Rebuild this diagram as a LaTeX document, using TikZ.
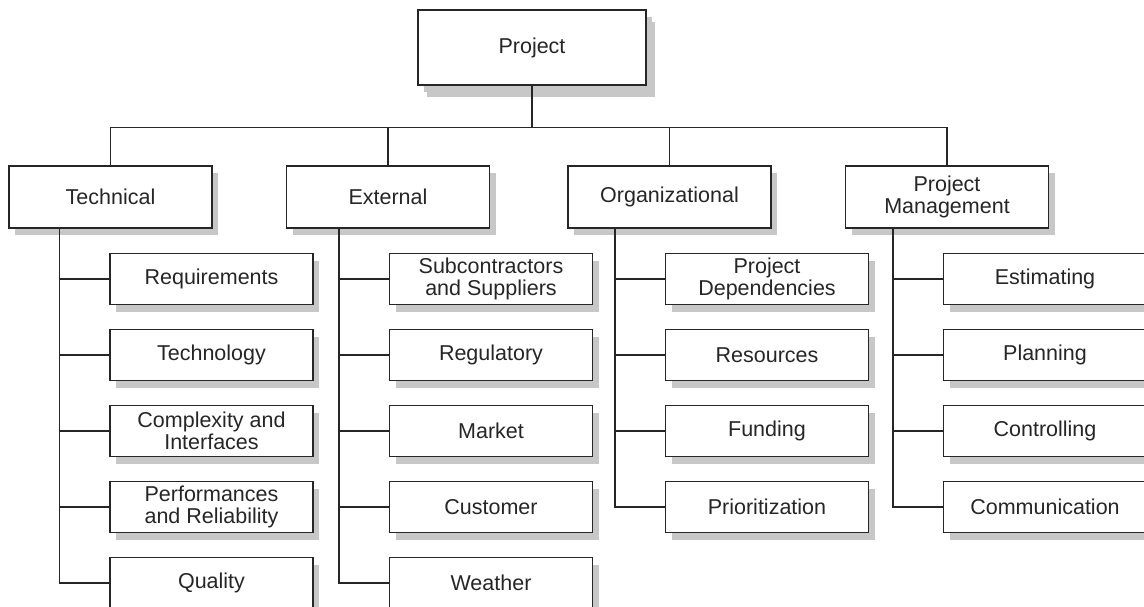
\documentclass[tikz,border=0pt]{standalone}
\usepackage{fontspec}
\setmainfont{Liberation Sans}
\usetikzlibrary{shadows}

\begin{document}
\begin{tikzpicture}[x=1pt, y=-1pt, line width=1.3pt, draw=black!85,
  every node/.style={draw=black!85, fill=white, align=center, inner sep=2pt,
    font=\fontsize{21.5}{22}\selectfont, text=black!85,
    drop shadow={shadow xshift=6pt, shadow yshift=-7pt, fill=black!22, opacity=1}},
  top/.style={minimum width=228, minimum height=75,
    drop shadow={shadow xshift=9pt, shadow yshift=-12pt, fill=black!22, opacity=1}},
  area/.style={minimum width=203, minimum height=62},
  item/.style={minimum width=203, minimum height=51}]
  \useasboundingbox (0,0) rectangle (1144,607);

  \node[top] (proj) at (532, 47.5) {Project};

  \node[area] (tech) at (110.5, 197) {Technical};
  \node[area] (ext) at (388, 197) {External};
  \node[area] (org) at (669.5, 197) {Organizational};
  \node[area] (pm) at (947, 197) {Project\\Management};

  \node[item] (req) at (211.5, 279) {Requirements};
  \node[item] (techno) at (211.5, 355) {Technology};
  \node[item] (cplx) at (211.5, 431) {Complexity and\\Interfaces};
  \node[item] (perf) at (211.5, 507) {Performances\\and Reliability};
  \node[item] (qual) at (211.5, 583) {Quality};

  \node[item] (sub) at (491, 279) {Subcontractors\\and Suppliers};
  \node[item] (reg) at (491, 355) {Regulatory};
  \node[item] (mkt) at (491, 431) {Market};
  \node[item] (cust) at (491, 507) {Customer};
  \node[item] (wthr) at (491, 583) {Weather};

  \node[item] (dep) at (767, 279) {Project\\Dependencies};
  \node[item] (res) at (767, 355) {Resources};
  \node[item] (fund) at (767, 431) {Funding};
  \node[item] (prio) at (767, 507) {Prioritization};

  \node[item] (est) at (1045, 279) {Estimating};
  \node[item] (plan) at (1045, 355) {Planning};
  \node[item] (ctrl) at (1045, 431) {Controlling};
  \node[item] (comm) at (1045, 507) {Communication};

  \draw (proj.south) -- ++(0,42) -| (tech.north);
  \draw (proj.south) -- ++(0,42) -| (ext.north);
  \draw (proj.south) -- ++(0,42) -| (org.north);
  \draw (proj.south) -- ++(0,42) -| (pm.north);

  \draw ([xshift=-50pt]tech.south -| req.west) |- (req.west);
  \draw ([xshift=-50pt]tech.south -| techno.west) |- (techno.west);
  \draw ([xshift=-50pt]tech.south -| cplx.west) |- (cplx.west);
  \draw ([xshift=-50pt]tech.south -| perf.west) |- (perf.west);
  \draw ([xshift=-50pt]tech.south -| qual.west) |- (qual.west);

  \draw ([xshift=-50pt]ext.south -| sub.west) |- (sub.west);
  \draw ([xshift=-50pt]ext.south -| reg.west) |- (reg.west);
  \draw ([xshift=-50pt]ext.south -| mkt.west) |- (mkt.west);
  \draw ([xshift=-50pt]ext.south -| cust.west) |- (cust.west);
  \draw ([xshift=-50pt]ext.south -| wthr.west) |- (wthr.west);

  \draw ([xshift=-50pt]org.south -| dep.west) |- (dep.west);
  \draw ([xshift=-50pt]org.south -| res.west) |- (res.west);
  \draw ([xshift=-50pt]org.south -| fund.west) |- (fund.west);
  \draw ([xshift=-50pt]org.south -| prio.west) |- (prio.west);

  \draw ([xshift=-50pt]pm.south -| est.west) |- (est.west);
  \draw ([xshift=-50pt]pm.south -| plan.west) |- (plan.west);
  \draw ([xshift=-50pt]pm.south -| ctrl.west) |- (ctrl.west);
  \draw ([xshift=-50pt]pm.south -| comm.west) |- (comm.west);
\end{tikzpicture}
\end{document}
